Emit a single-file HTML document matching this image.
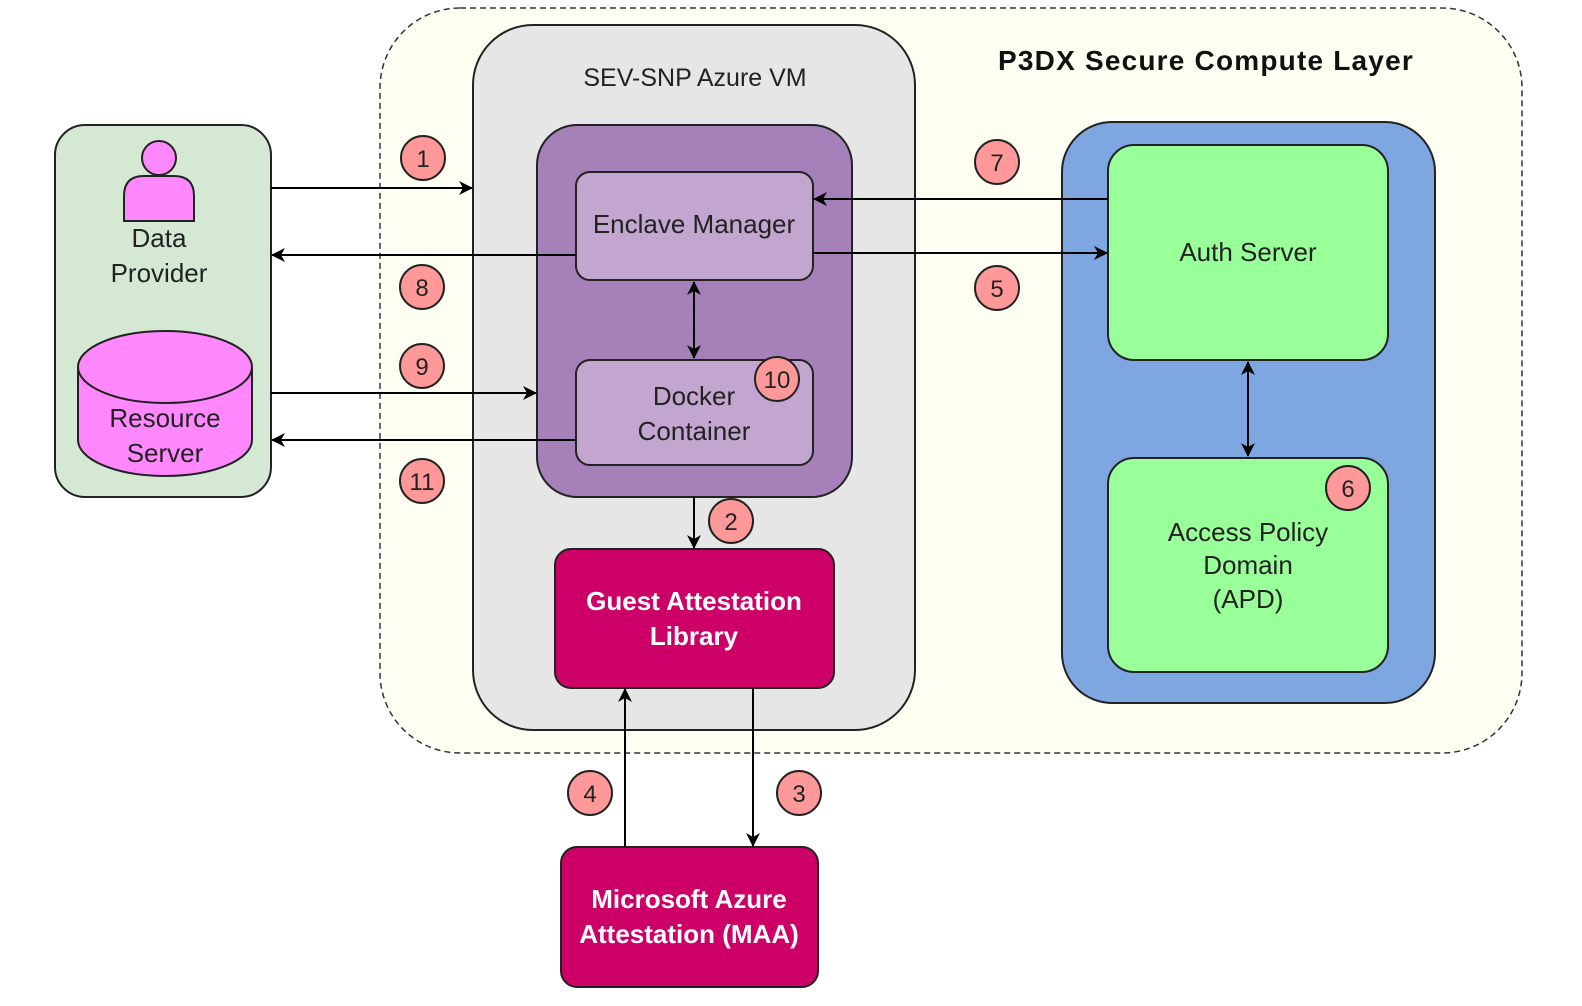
<!DOCTYPE html>
<html><head><meta charset="utf-8"><style>
html,body{margin:0;padding:0;background:#fff;}
svg{display:block;}
text{font-family:"Liberation Sans",Arial,sans-serif;}
</style></head><body>
<svg width="1582" height="1006" viewBox="0 0 1582 1006" xmlns="http://www.w3.org/2000/svg">
<defs>
<marker id="a" markerWidth="14" markerHeight="14" refX="13" refY="7" orient="auto-start-reverse" markerUnits="userSpaceOnUse">
<path d="M0,0 L14,7 L0,14 L4,7 Z" fill="#000"/>
</marker>
</defs>
<rect x="380" y="8" width="1142" height="745" rx="80" fill="#fefef2" stroke="#333" stroke-width="1.5" stroke-dasharray="6,4"/>
<text x="1206" y="70" font-size="28" font-weight="bold" text-anchor="middle" fill="#111" letter-spacing="1.2">P3DX Secure Compute Layer</text>
<rect x="473" y="25" width="442" height="705" rx="60" fill="#e6e6e6" stroke="#222" stroke-width="2"/>
<text x="695" y="86" font-size="25" text-anchor="middle" fill="#222">SEV-SNP Azure VM</text>
<rect x="537" y="125" width="315" height="372" rx="40" fill="#a680b8" stroke="#222" stroke-width="2"/>
<rect x="576" y="172" width="237" height="108" rx="14" fill="#c3a6d0" stroke="#222" stroke-width="2"/>
<text x="694" y="233" font-size="26" text-anchor="middle" fill="#222">Enclave Manager</text>
<rect x="576" y="360" width="237" height="105" rx="14" fill="#c3a6d0" stroke="#222" stroke-width="2"/>
<text x="694" y="405" font-size="26" text-anchor="middle" fill="#222">Docker</text>
<text x="694" y="440" font-size="26" text-anchor="middle" fill="#222">Container</text>
<rect x="555" y="549" width="279" height="139" rx="16" fill="#cc0066" stroke="#222" stroke-width="2"/>
<text x="694" y="610" font-size="26" font-weight="bold" text-anchor="middle" fill="#fff">Guest Attestation</text>
<text x="694" y="645" font-size="26" font-weight="bold" text-anchor="middle" fill="#fff">Library</text>
<rect x="561" y="847" width="257" height="140" rx="16" fill="#cc0066" stroke="#222" stroke-width="2"/>
<text x="689" y="908" font-size="26" font-weight="bold" text-anchor="middle" fill="#fff">Microsoft Azure</text>
<text x="689" y="943" font-size="26" font-weight="bold" text-anchor="middle" fill="#fff">Attestation (MAA)</text>
<rect x="55" y="125" width="216" height="372" rx="30" fill="#d5e8d4" stroke="#222" stroke-width="2"/>
<circle cx="159" cy="158" r="17" fill="#ff88ff" stroke="#222" stroke-width="2"/>
<path d="M124,221 L124,196 Q124,176 144,176 L174,176 Q194,176 194,196 L194,221 Z" fill="#ff88ff" stroke="#222" stroke-width="2"/>
<text x="159" y="247" font-size="26" text-anchor="middle" fill="#222">Data</text>
<text x="159" y="282" font-size="26" text-anchor="middle" fill="#222">Provider</text>
<path d="M78,367 L78,440 A87,36 0 0 0 252,440 L252,367" fill="#ff88ff" stroke="#222" stroke-width="2"/>
<ellipse cx="165" cy="367" rx="87" ry="36" fill="#ff88ff" stroke="#222" stroke-width="2"/>
<text x="165" y="427" font-size="26" text-anchor="middle" fill="#222">Resource</text>
<text x="165" y="462" font-size="26" text-anchor="middle" fill="#222">Server</text>
<rect x="1062" y="122" width="373" height="581" rx="50" fill="#7ea6e0" stroke="#222" stroke-width="2"/>
<rect x="1108" y="145" width="280" height="215" rx="26" fill="#99ff99" stroke="#222" stroke-width="2"/>
<text x="1248" y="261" font-size="26" text-anchor="middle" fill="#222">Auth Server</text>
<rect x="1108" y="458" width="280" height="214" rx="26" fill="#99ff99" stroke="#222" stroke-width="2"/>
<text x="1248" y="541" font-size="26" text-anchor="middle" fill="#222">Access Policy</text>
<text x="1248" y="574" font-size="26" text-anchor="middle" fill="#222">Domain</text>
<text x="1248" y="608" font-size="26" text-anchor="middle" fill="#222">(APD)</text>
<g stroke="#000" stroke-width="2" fill="none">
<line x1="271" y1="188" x2="472" y2="188" marker-end="url(#a)"/>
<line x1="576" y1="255" x2="272" y2="255" marker-end="url(#a)"/>
<line x1="271" y1="393" x2="536" y2="393" marker-end="url(#a)"/>
<line x1="576" y1="440" x2="272" y2="440" marker-end="url(#a)"/>
<line x1="1108" y1="199" x2="814" y2="199" marker-end="url(#a)"/>
<line x1="813" y1="253" x2="1107" y2="253" marker-end="url(#a)"/>
<line x1="694" y1="282" x2="694" y2="358" marker-start="url(#a)" marker-end="url(#a)"/>
<line x1="694" y1="497" x2="694" y2="548" marker-end="url(#a)"/>
<line x1="625" y1="847" x2="625" y2="689" marker-end="url(#a)"/>
<line x1="753" y1="688" x2="753" y2="846" marker-end="url(#a)"/>
<line x1="1248" y1="362" x2="1248" y2="456" marker-start="url(#a)" marker-end="url(#a)"/>
</g>
<g font-size="24" text-anchor="middle" fill="#222">
<g><circle cx="423" cy="158" r="22" fill="#ff9999" stroke="#222" stroke-width="2"/><text x="423" y="167">1</text></g>
<g><circle cx="422" cy="287" r="22" fill="#ff9999" stroke="#222" stroke-width="2"/><text x="422" y="296">8</text></g>
<g><circle cx="422" cy="366" r="22" fill="#ff9999" stroke="#222" stroke-width="2"/><text x="422" y="375">9</text></g>
<g><circle cx="422" cy="481" r="22" fill="#ff9999" stroke="#222" stroke-width="2"/><text x="422" y="490">11</text></g>
<g><circle cx="997" cy="162" r="22" fill="#ff9999" stroke="#222" stroke-width="2"/><text x="997" y="171">7</text></g>
<g><circle cx="997" cy="288" r="22" fill="#ff9999" stroke="#222" stroke-width="2"/><text x="997" y="297">5</text></g>
<g><circle cx="777" cy="379" r="22" fill="#ff9999" stroke="#222" stroke-width="2"/><text x="777" y="388">10</text></g>
<g><circle cx="731" cy="521" r="22" fill="#ff9999" stroke="#222" stroke-width="2"/><text x="731" y="530">2</text></g>
<g><circle cx="1348" cy="488" r="22" fill="#ff9999" stroke="#222" stroke-width="2"/><text x="1348" y="497">6</text></g>
<g><circle cx="590" cy="793" r="22" fill="#ff9999" stroke="#222" stroke-width="2"/><text x="590" y="802">4</text></g>
<g><circle cx="799" cy="793" r="22" fill="#ff9999" stroke="#222" stroke-width="2"/><text x="799" y="802">3</text></g>
</g>
</svg>
</body></html>
